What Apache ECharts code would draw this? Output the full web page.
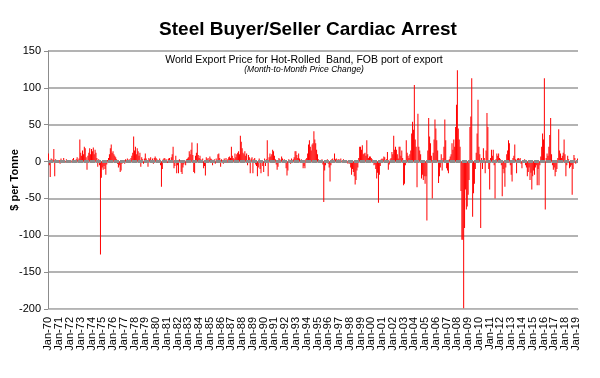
<!DOCTYPE html>
<html>
<head>
<meta charset="utf-8">
<script src="https://cdn.jsdelivr.net/npm/echarts@6/dist/echarts.min.js"></script>
<style>
html,body{margin:0;padding:0;background:#fff;}
#chart{width:600px;height:378px;}
</style>
</head>
<body>
<div id="chart"></div>
<script>
// Month-to-month price change ($ per tonne), Jan-1970 .. Mar-2019
const chg1970s = [
  11, -5, -21, 4, 3, 2, 17, -20, 3, 2, -2, 1,
  2, -3, 4, 1, -2, 5, 2, -1, 3, 0, -2, 2,
  1, 2, -1, 3, 5, 2, -2, 3, 6, 2, 4, 30,
  12, 8, 15, 10, 20, 18, 6, -11, 8, 12, 18, 10,
  17, 14, 19, 10, 16, 12, 5, -7, 3, -5, -126, -22,
  -8, -11, -6, -10, -18, -4, 2, 5, 10, 18, 23, 12,
  14, 10, 8, 6, 3, -3, -8, -5, -14, -12, -3, 2,
  2, -3, 3, 1, 4, -2, 3, 2, 5, 8, 12, 34,
  15, 20, 10, 18, 14, 8, 12, -7, 6, 3, -3, 4,
  11, 4, 2, -7, 5, 3, 6, 2, 4, -3, 5, 7
];
const chg1980s = [
  5, 3, 2, -2, 4, -5, -34, -10, 3, 5, 4, 2,
  3, -2, 4, 5, 2, 6, 10, 20, -9, -6, 8, -16,
  -5, -16, 3, 2, -14, -17, -8, -4, 2, -5, 3, 4,
  6, 14, 10, 16, 26, 9, -14, -16, 8, 12, 25, 9,
  5, 8, 3, -2, 4, -9, -6, -19, 6, 3, 5, 2,
  7, 4, 3, -5, 2, 3, -3, 4, 2, 10, 11, 5,
  -7, 3, 2, -3, 4, 2, 5, -2, 3, 6, 7, 5,
  20, 8, 5, 3, 11, 6, 10, 12, 14, 10, 35, 27,
  18, 12, 10, 14, 8, 11, -5, 9, 6, -16, 4, 6,
  -16, 3, 5, -4, -6, -20, -8, 4, -10, -16, 2, -6
];
const chg1990s = [
  -14, 4, -6, 3, 29, -20, 6, 11, 7, 10, 16, 14,
  8, 3, -4, -11, -7, 5, 3, 2, 7, 4, -2, 3,
  2, -9, -19, -12, 3, 2, -3, 4, 2, 3, 6, 14,
  14, 9, 5, 11, 4, 2, 3, -2, -9, -6, -9, 3,
  5, 11, 23, 29, 20, 15, 23, 25, 41, 30, 25, 16,
  10, 3, 2, 1, -2, 3, -4, -55, -12, -5, 2, 3,
  -3, -8, -27, -5, 3, 4, 2, 11, 3, 4, 2, 3,
  3, 2, 4, 1, -2, 3, 2, -1, 2, 1, -3, 2,
  -3, -8, -18, -10, -14, -20, -31, -25, -12, -8, 5, 20,
  20, 16, 22, 10, 11, 12, 8, 29, 10, 5, 7, 7
];
const chg2000s = [
  5, 3, 2, -5, -4, -10, -23, -15, -56, -18, -6, 3,
  4, 3, 7, 6, 2, 3, 13, -11, -4, 3, 5, 13,
  10, 35, 16, 20, 16, 10, 4, 20, 20, 8, 15, 5,
  -32, -30, -5, 29, 12, 8, 5, 10, 15, 38, 54, 43,
  104, 30, 20, -35, 65, 20, 15, 10, -23, -18, -25, -20,
  -30, -20, -80, 15, 59, 34, 25, 8, -50, 12, 30, 57,
  45, 29, 15, -29, -20, -8, 10, -12, 5, 20, 57, 29,
  -9, -12, -16, 3, 7, 10, 25, 16, 30, 20, 47, 77,
  124, 45, 30, 20, -40, -106, -106, -199, -90, -38, -65, -61,
  -45, -25, 47, 61, 113, -75, -43, -30, -10, 12, 38, 84
];
const chg2010s = [
  20, 10, -90, 5, -10, 18, 5, -16, 15, 66, 47, -10,
  -38, 5, 16, 8, 16, -5, -50, 3, 11, 8, 11, 5,
  3, -5, -47, -10, -16, -34, -8, 10, 15, 29, 25, -5,
  -18, -27, 5, 8, 23, 3, -16, 4, 5, 3, 5, -3,
  -9, 2, 2, 3, -5, -8, -20, -14, -8, -25, -15, -38,
  -20, -12, -18, -8, -5, -32, -10, -32, -5, 7, 20, 38,
  30, 113, -65, 5, 11, 8, 20, 36, 59, 10, -5, -11,
  -8, -20, -14, -10, 5, 44, 15, 11, 5, 8, 12, 30,
  10, -20, -5, 8, 3, -9, -7, -5, -45, -10, 9, 5,
  -3, 2, 4
];
const values = [].concat(chg1970s, chg1980s, chg1990s, chg2000s, chg2010s);

const monthNames = ['Jan','Feb','Mar','Apr','May','Jun','Jul','Aug','Sep','Oct','Nov','Dec'];
const startYear = 1970;
const categories = values.map((v, i) => {
  const y = (startYear + Math.floor(i / 12)) % 100;
  return monthNames[i % 12] + '-' + String(y).padStart(2, '0');
});
const yTicks = { min: -200, max: 150, interval: 50 };

const chart = echarts.init(document.getElementById('chart'), null, { renderer: 'canvas' });
const FONT = '"Liberation Sans", Arial, sans-serif';
chart.setOption({
  animation: false,
  backgroundColor: '#ffffff',
  grid: { left: 48, right: 22, top: 51, bottom: 69, containLabel: false, outerBoundsMode: 'none' },
  graphic: [
    { type: 'text', x: 308, y: 30, style: { text: 'Steel Buyer/Seller Cardiac Arrest', textAlign: 'center', textVerticalAlign: 'middle', font: 'bold 19px ' + FONT, fill: '#000' } },
    { type: 'text', x: 304, y: 60, style: { text: 'World Export Price for Hot-Rolled  Band, FOB port of export', textAlign: 'center', textVerticalAlign: 'middle', font: '10.5px ' + FONT, fill: '#000' } },
    { type: 'text', x: 304, y: 70, style: { text: '(Month-to-Month Price Change)', textAlign: 'center', textVerticalAlign: 'middle', font: 'italic 8.5px ' + FONT, fill: '#000' } }
  ],
  xAxis: {
    type: 'category',
    data: categories,
    boundaryGap: true,
    axisLine: { show: true, onZero: false, lineStyle: { color: '#bdbdbd', width: 1 } },
    axisTick: { show: false },
    axisLabel: {
      interval: 0,
      formatter: (val, idx) => (idx % 12 === 0 ? val : ''),
      rotate: 90, fontSize: 11, fontFamily: FONT, color: '#000', margin: 8, hideOverlap: false
    },
    splitLine: { show: false }
  },
  yAxis: {
    type: 'value',
    min: yTicks.min, max: yTicks.max, interval: yTicks.interval,
    name: '$ per Tonne',
    nameLocation: 'middle',
    nameRotate: 90,
    nameGap: 28,
    nameMoveOverlap: false,
    nameTextStyle: { fontSize: 11, fontWeight: 'bold', fontFamily: FONT, color: '#000' },
    axisLine: { show: true, lineStyle: { color: '#8c8c8c', width: 1 } },
    axisTick: { show: true, length: 4, lineStyle: { color: '#8c8c8c' } },
    axisLabel: { fontSize: 11, fontFamily: FONT, color: '#000', margin: 7 },
    splitLine: { show: true, lineStyle: { color: '#9a9a9a', width: 1.5 } }
  },
  series: [{
    type: 'bar',
    data: values,
    barWidth: 1,
    itemStyle: { color: '#ff0000' },
    markLine: {
      silent: true,
      symbol: 'none',
      label: { show: false },
      lineStyle: { color: '#8c8c8c', width: 3, type: [5, 1] },
      data: [{ yAxis: 0 }]
    }
  }]
});
</script>
</body>
</html>
